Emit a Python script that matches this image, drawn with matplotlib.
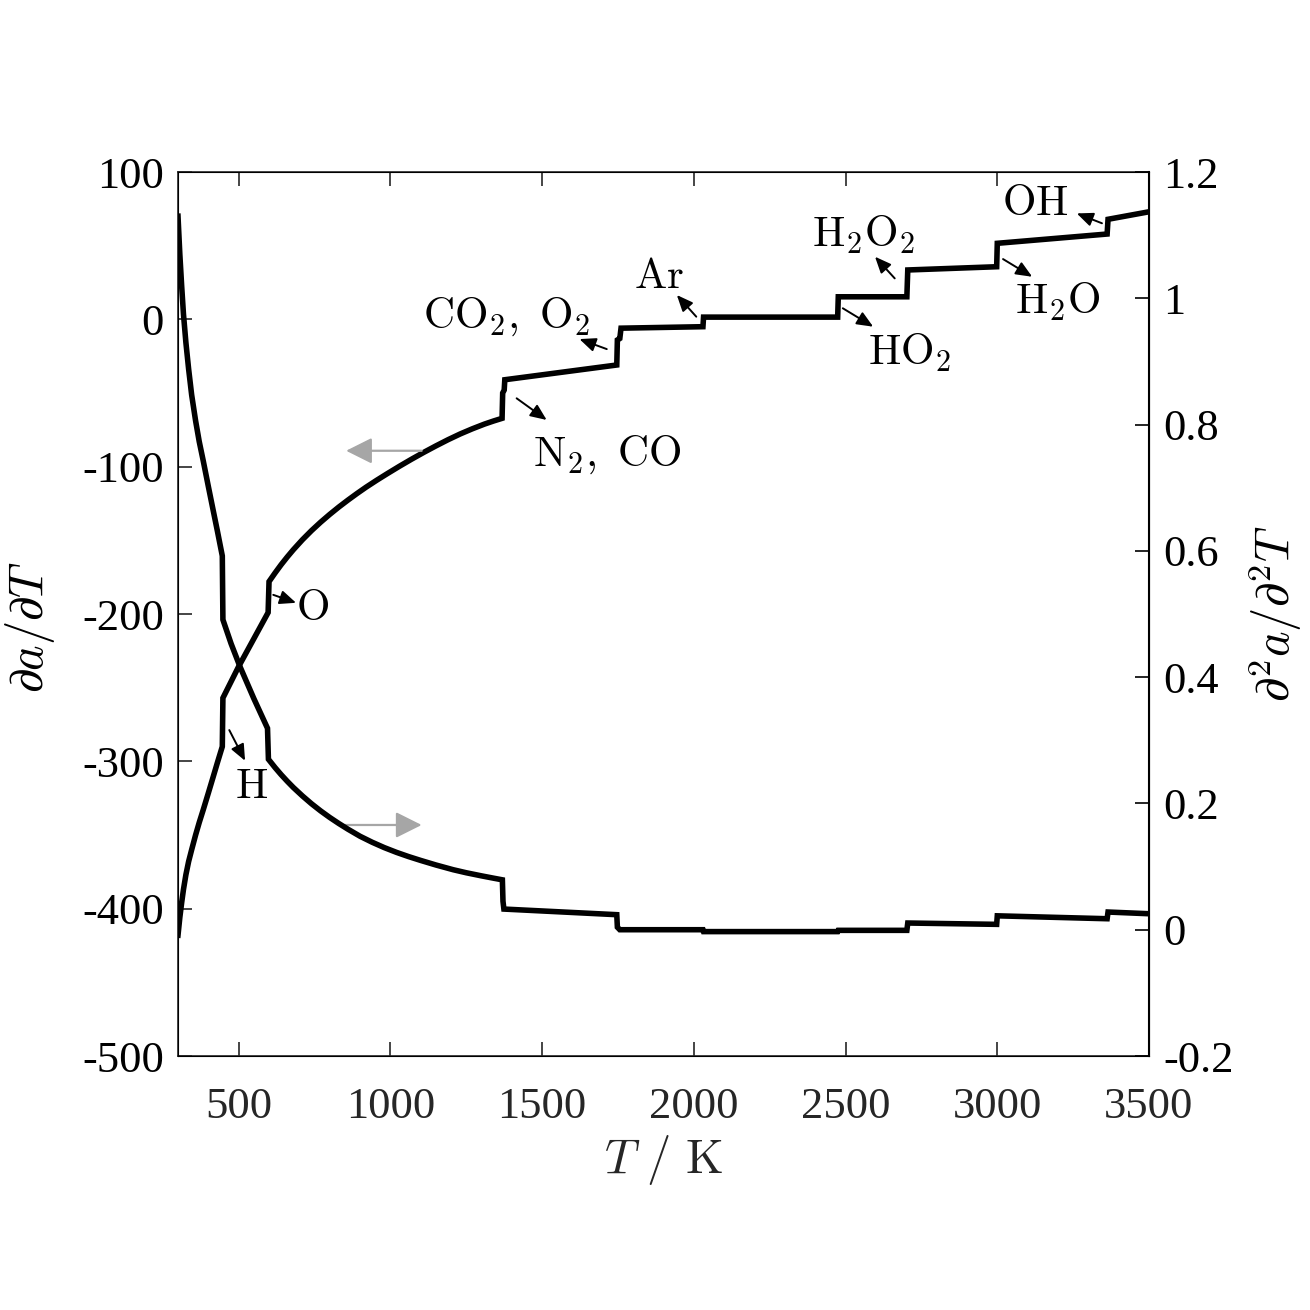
import numpy as np
import matplotlib
matplotlib.use("Agg")
import matplotlib.pyplot as plt

plt.rcParams['font.family'] = ['Liberation Serif', 'DejaVu Serif']
plt.rcParams['mathtext.fontset'] = 'cm'
plt.rcParams['axes.unicode_minus'] = False

# first derivative (left axis)
T_first = [300, 306, 312, 318, 326, 335, 345, 358, 370, 383, 400, 416, 430,
           446, 448, 499, 597, 600, 620, 640, 660, 680, 710, 740, 770, 800,
           830, 860, 890, 920, 955, 990, 1030, 1070, 1110, 1150, 1190, 1230,
           1270, 1310, 1340, 1368, 1370, 1375, 1377, 1746, 1748, 1756, 1760,
           2030, 2032, 2474, 2476, 2702, 2705, 2998, 3000, 3362, 3365, 3500]
dadT = [-418, -406, -396, -387, -377, -368, -360, -350, -341.5, -333, -321.5,
        -310.5, -300.8, -290, -257, -236, -199, -178, -172.1, -166.5, -161.3,
        -156.4, -149.6, -143.4, -137.7, -132.4, -127.4, -122.7, -118.2,
        -113.9, -109.2, -104.7, -99.7, -94.9, -90.3, -85.9, -81.7, -77.8,
        -74.3, -71.1, -69.0, -67.2, -50, -48, -41, -31, -14, -13, -6, -5,
        1.5, 1.5, 15.3, 15.3, 33.5, 35.7, 51.6, 57.9, 67.9, 73]

# second derivative (right axis)
T_second = [300, 306, 312, 318, 326, 335, 345, 358, 370, 383, 400, 416, 430,
            446, 448, 475, 504, 550, 595, 598, 620, 640, 660, 680, 710, 740,
            770, 800, 830, 860, 900, 940, 980, 1020, 1060, 1100, 1150, 1207,
            1250, 1300, 1340, 1369, 1371, 1374, 1746, 1748, 1756, 2030, 2032,
            2474, 2476, 2702, 2705, 2998, 3000, 3362, 3365, 3500]
d2adT2 = [1.13, 1.07, 1.02, 0.975, 0.93, 0.888, 0.847, 0.806, 0.773, 0.743,
          0.702, 0.664, 0.631, 0.592, 0.491, 0.453, 0.417, 0.366, 0.319, 0.270,
          0.2567, 0.2455, 0.2351, 0.2253, 0.2119, 0.1995, 0.1882, 0.1778,
          0.1682, 0.1592, 0.1480, 0.1385, 0.1300, 0.1225, 0.1158, 0.1097,
          0.1025, 0.0950, 0.0902, 0.0853, 0.0816, 0.0790, 0.045, 0.0327,
          0.0238, 0.004, 0.0, 0.0, -0.003, -0.003, -0.001, -0.001, 0.0106,
          0.0085, 0.022, 0.0174, 0.028, 0.0253]

# species labels: text, text position, arrow tail, arrow head, alignment
species = [
    (r'$\mathrm{H}$', (541, -324.6), (469, -278.8), (521, -299.6), 'center'),
    (r'$\mathrm{O}$', (743, -204), (614, -187), (689, -192.4), 'center'),
    (r'$\mathrm{N_2,\ CO}$', (1471, -99.6), (1416, -53.6), (1515, -68.3), 'left'),
    (r'$\mathrm{CO_2,\ O_2}$', (1108, -6), (1713, -20.2), (1623, -13.4), 'left'),
    (r'$\mathrm{Ar}$', (1885, 21.2), (2008, 1.8), (1944, 16.5), 'center'),
    (r'$\mathrm{H_2O_2}$', (2559, 49.7), (2662, 27.8), (2597, 42.5), 'center'),
    (r'$\mathrm{HO_2}$', (2573, -31), (2491, 7.5), (2591, -5.0), 'left'),
    (r'$\mathrm{H_2O}$', (3200, 4.1), (3019, 40.9), (3115, 28.9), 'center'),
    (r'$\mathrm{OH}$', (3125, 70.8), (3345, 65.2), (3262, 71.9), 'center'),
]

gray = '#a6a6a6'
dark = '#262626'

fig = plt.figure(figsize=(13.1, 13.1), dpi=100)
ax = fig.add_axes([178 / 1310, 254 / 1310, 971 / 1310, 884 / 1310])
ax2 = ax.twinx()

ax.plot(T_first, dadT, color='k', lw=4, solid_joinstyle='miter')
ax2.plot(T_second, d2adT2, color='k', lw=4, solid_joinstyle='miter')

ax.set_xlim(300, 3500)
ax.set_ylim(-500, 100)
ax2.set_ylim(-0.2, 1.2)

ax.set_xticks([500, 1000, 1500, 2000, 2500, 3000, 3500])
ax.set_yticks(np.arange(-500, 101, 100))
ax2.set_yticks([-0.2, 0, 0.2, 0.4, 0.6, 0.8, 1, 1.2])
ax2.set_yticklabels(['-0.2', '0', '0.2', '0.4', '0.6', '0.8', '1', '1.2'])

ax.tick_params(axis='x', direction='in', length=10, width=1.2, top=True,
               labelsize=32, pad=22, colors=dark)
ax.tick_params(axis='y', direction='in', length=10, width=1.2,
               labelsize=32, pad=10, colors=dark, labelcolor='k')
ax2.tick_params(axis='y', direction='in', length=10, width=1.2,
                labelsize=32, pad=10, colors='k')

for s in ['left', 'bottom', 'top']:
    ax.spines[s].set_color(dark)
    ax.spines[s].set_linewidth(1.2)
ax2.spines['right'].set_color('k')
ax2.spines['right'].set_linewidth(1.5)

ax.set_xlabel(r'$T\ /\ \mathrm{K}$', fontsize=35, color=dark)
ax.xaxis.set_label_coords(0.5, -0.118)
ax.xaxis.label.set_va('center')
ax.set_ylabel(r'$\partial a/\partial T$', fontsize=35, color='k')
ax.yaxis.set_label_coords(-0.152, 0.485)
ax.yaxis.label.set_va('center')
ax2.set_ylabel(r'$\partial^2 a/\partial^2 T$', fontsize=35, color='k')
ax2.yaxis.set_label_coords(1.13, 0.5)
ax2.yaxis.label.set_va('center')

for label, txt_pos, tail, head, ha in species:
    ax.text(txt_pos[0], txt_pos[1], label, fontsize=31, ha=ha, va='baseline')
    ax.annotate('', xy=head, xytext=tail,
                arrowprops=dict(arrowstyle='-|>,head_length=0.7,head_width=0.3',
                                color='k', lw=1.4, mutation_scale=14,
                                shrinkA=0, shrinkB=0))

# gray arrows telling which axis belongs to which curve
ax.annotate('', xy=(854, -89.2), xytext=(1103, -89.2),
            arrowprops=dict(arrowstyle='-|>,head_length=0.8,head_width=0.4',
                            color=gray, lw=1.6, mutation_scale=20,
                            shrinkA=0, shrinkB=0))
ax.annotate('', xy=(1103, -343.2), xytext=(850, -343.2),
            arrowprops=dict(arrowstyle='-|>,head_length=0.8,head_width=0.4',
                            color=gray, lw=1.6, mutation_scale=20,
                            shrinkA=0, shrinkB=0))

plt.savefig('out.png', dpi=100)
